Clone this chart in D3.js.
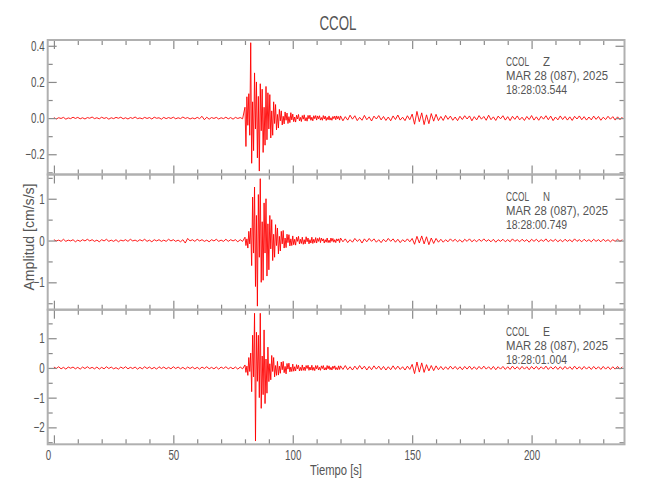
<!DOCTYPE html>
<html><head><meta charset="utf-8">
<script src="https://cdn.jsdelivr.net/npm/d3@7"></script>
<style>
html,body{margin:0;padding:0;background:#fff;}
text{font-family:'Liberation Sans',Arial,sans-serif;fill:#555;}
</style></head>
<body><svg id="c" width="650" height="500"></svg>
<script>
// ---- Data ----
const title = "CCOL";
const station = "CCOL";
const components = ["Z", "N", "E"];
const dateLabel = "MAR 28 (087), 2025";
const startTimes = ["18:28:03.544", "18:28:00.749", "18:28:01.004"];
const xLabel = "Tiempo [s]";
const yLabel = "Amplitud [cm/s/s]";
const xMajorTicks = [0, 50, 100, 150, 200];
const xMinorTicks = [10,20,30,40,60,70,80,90,110,120,130,140,160,170,180,190,210,220,230];
const yDomains = [[-0.312, 0.432], [-1.655, 1.58], [-2.57, 1.96]];
const yMajorTicks = [[-0.2, 0, 0.2, 0.4], [-1, 0, 1], [-2, -1, 0, 1]];
const yMinorTicks = [[-0.3, -0.1, 0.1, 0.3], [-1.5, -0.5, 0.5, 1.5], [-2.5, -1.5, -0.5, 0.5, 1.5]];
const yTickLabels = [["−0.2", "0.0", "0.2", "0.4"], ["−1", "0", "1"], ["−2", "−1", "0", "1"]];

// sample segments: pre = 0..79 s (1 s), main = 80..119.6 s (0.4 s), post = 120..238 s (1 s)
// Z in units of 0.001 cm/s/s, N and E in units of 0.01 cm/s/s
const zUnit = 0.001, nUnit = 0.01, eUnit = 0.01;
const zPre = [3,-5,2,-2,4,-6,1,-3,5,-2,4,-4,2,-5,3,-1,6,-3,2,-4,5,-2,3,-6,2,-3,4,-1,5,-4,2,-5,3,-2,6,-3,1,-4,4,-2,3,-5,5,-1,2,-6,4,-3,3,-2,5,-4,2,-3,6,-2,3,-5,1,-4,4,-3,10,-9,5,-6,3,-2,4,-5,2,-3,5,-4,3,-6,4,-2,3,-4];
const zMain = [60,-157,118,-40,135,-95,417,-250,90,-180,250,-60,200,-220,120,-293,190,-70,160,-190,60,-150,175,-120,140,-60,130,-110,40,-95,90,-30,75,-65,20,-55,48,-15,40,-38,10,-32,34,-12,28,-30,8,-25,30,-10,22,-20,6,-22,16,-5,20,-15,4,-19,14,-6,18,-15,3,-17,15,-4,16,-12,5,-15,13,-3,14,-11,12,-4,13,-11,3,-12,14,-5,11,-13,4,-9,12,-11,2,-12,9,-3,11,-9,12,-4,9,-11];
const zPost = [12,-15,8,-11,16,-6,13,-14,4,-12,15,-9,7,-16,11,-5,14,-10,9,-13,6,-15,12,-8,17,-11,5,-14,13,-9,22,-34,37,-20,29,-36,18,-31,25,-17,21,-14,9,-13,15,-7,11,-12,6,-14,10,-8,13,-5,12,-15,8,-10,14,-6,9,-12,16,-9,7,-13,11,-4,13,-11,8,-14,10,-7,12,-10,5,-13,9,-8,14,-11,7,-12,10,-6,13,-9,11,-14,6,-10,12,-8,9,-11,7,-13,10,-5,12,-9,8,-11,6,-10,11,-7,9,-12,5,-8,10,-6,8,-11,7,-9,6];
const nPre = [2,-1,1,-2,3,-2,1,-1,2,-3,1,-2,2,-1,3,-1,2,-2,1,-3,2,-1,3,-2,1,-2,2,-3,1,-1,2,-2,3,-1,1,-2,2,-1,3,-2,1,-3,2,-1,2,-2,1,-2,3,-1,2,-2,1,-3,2,-6,5,-1,2,-2,3,-1,2,-2,1,-3,2,-1,3,-2,1,-2,3,-2,2,-1,2,-3,2,-2];
const nMain = [8,-12,4,-18,22,-8,30,-60,104,-30,128,-110,60,-157,110,-40,148,-100,45,-95,90,-30,100,-85,40,-70,60,-20,50,-48,15,-40,38,-12,30,-32,10,-25,22,-8,24,-18,6,-17,15,-5,14,-13,4,-12,11,-10,3,-11,8,-2,10,-8,3,-7,8,-9,2,-8,9,-3,6,-8,2,-6,8,-7,3,-5,7,-6,5,-2,7,-5,6,-1,4,-6,2,-4,6,-5,1,-5,6,-2,5,-4,2,-5,4,-1,4,-5];
const nPost = [6,-3,4,-5,2,-4,5,-2,3,-6,4,-3,5,-2,4,-4,2,-5,3,-3,5,-2,4,-4,3,-5,2,-3,4,-3,5,-9,10,-6,11,-8,9,-10,6,-7,5,-4,3,-4,2,-3,4,-2,3,-3,2,-4,3,-2,4,-3,2,-3,3,-2,4,-2,2,-3,3,-4,2,-2,3,-3,2,-3,4,-2,2,-3,3,-2,2,-4,3,-2,3,-3,2,-2,4,-3,2,-2,3,-3,2,-3,3,-2,2,-3,4,-2,2,-3,3,-2,2,-3,3,-2,2,-3,3,-2,2,-3,2,-2,3,-2,2];
const ePre = [3,-2,4,-3,2,-4,3,-1,3,-3,2,-4,3,-2,4,-2,2,-3,3,-4,2,-3,4,-2,3,-3,1,-4,3,-2,4,-3,2,-2,3,-4,2,-3,4,-2,3,-3,2,-4,4,-2,3,-3,2,-3,4,-2,3,-3,2,-4,3,-2,3,-3,2,-4,3,-2,4,-3,2,-3,3,-4,3,-2,4,-3,2,-3,3,-4,3,-3];
const eMain = [10,-15,6,-25,35,-12,50,-80,110,-30,184,-246,120,-45,110,-100,184,-136,40,-90,128,-120,30,-85,70,-46,14,-40,42,-12,35,-30,8,-25,22,-24,6,-18,20,-6,22,-16,5,-20,15,-4,16,-13,3,-12,13,-11,4,-10,11,-3,9,-10,2,-9,10,-8,3,-9,8,-2,9,-8,3,-7,9,-8,2,-9,8,-3,8,-7,2,-8,7,-2,8,-7,1,-7,8,-3,7,-6,2,-7,6,-2,7,-6,1,-6,7,-5];
const ePost = [7,-5,8,-6,4,-7,6,-5,8,-4,6,-7,5,-6,7,-4,6,-6,5,-7,4,-6,7,-5,6,-5,4,-7,6,-5,12,-19,20,-14,17,-15,11,-10,8,-9,7,-6,5,-6,4,-5,6,-4,5,-5,4,-6,5,-4,6,-5,4,-5,5,-4,6,-4,4,-5,5,-6,4,-4,5,-5,4,-5,6,-4,4,-5,5,-4,4,-6,5,-4,5,-5,4,-4,6,-5,4,-4,5,-5,4,-5,5,-4,4,-5,6,-4,4,-5,5,-4,4,-5,5,-4,4,-5,5,-4,4,-5,4,-4,5,-4,4];

// ---- Build traces ----
function buildTrace(pre, main, post, unit) {
  const pts = [];
  pre.forEach((v, i) => pts.push([i * 1, v * unit]));
  main.forEach((v, i) => pts.push([80 + i * 0.4, v * unit]));
  post.forEach((v, i) => pts.push([120 + i * 1, v * unit]));
  return pts;
}
const traces = [
  buildTrace(zPre, zMain, zPost, zUnit),
  buildTrace(nPre, nMain, nPost, nUnit),
  buildTrace(ePre, eMain, ePost, eUnit)
];

// ---- Layout ----
const svg = d3.select("#c");
const left = 47.7, right = 624.5;
const bounds = [40, 174.5, 309.7, 444.3];
const axisColor = "#b0b0b0";
const tickColor = "#8a8a8a";
const squeeze = 0.7;

function narrow(sel, factor) {
  sel.each(function () {
    const w = this.getComputedTextLength();
    if (w > 0) d3.select(this).attr("textLength", w * factor).attr("lengthAdjust", "spacingAndGlyphs");
  });
}
function fixed(sel, len) {
  sel.attr("textLength", len).attr("lengthAdjust", "spacingAndGlyphs");
}

const x = d3.scaleLinear().domain([-2.6, 238.9]).range([left, right]);

fixed(svg.append("text").attr("x", 338).attr("y", 30).attr("text-anchor", "middle")
  .attr("font-size", 20).text(title), 37);

const defs = svg.append("defs");

components.forEach((comp, p) => {
  const top = bounds[p], bot = bounds[p + 1];
  const y = d3.scaleLinear().domain(yDomains[p]).range([bot, top]);
  const g = svg.append("g");

  defs.append("clipPath").attr("id", "clip" + p)
    .append("rect").attr("x", left).attr("y", top).attr("width", right - left).attr("height", bot - top);

  // waveform
  const line = d3.line().x(d => x(d[0])).y(d => y(d[1]));
  g.append("path").datum(traces[p]).attr("clip-path", "url(#clip" + p + ")")
    .attr("fill", "none").attr("stroke", "#ff0000").attr("stroke-width", 0.9)
    .attr("stroke-linejoin", "round").attr("d", line);

  function styleAxis(sel) {
    sel.select(".domain").remove();
    sel.selectAll(".tick line").attr("stroke", tickColor).attr("stroke-width", 1.2);
    sel.selectAll(".tick text").attr("font-size", 14).attr("fill", "#555")
      .attr("font-family", "'Liberation Sans',Arial,sans-serif");
    narrow(sel.selectAll(".tick text"), squeeze);
  }

  // left axis
  const labels = yTickLabels[p];
  const ax = g.append("g").attr("transform", `translate(${left},0)`)
    .call(d3.axisLeft(y).tickValues(yMajorTicks[p]).tickSize(-9).tickPadding(3)
      .tickFormat((d, i) => labels[i]));
  styleAxis(ax);
  const axm = g.append("g").attr("transform", `translate(${left},0)`)
    .call(d3.axisLeft(y).tickValues(yMinorTicks[p]).tickSize(-5).tickFormat(""));
  styleAxis(axm);
  // right axis
  const ar = g.append("g").attr("transform", `translate(${right},0)`)
    .call(d3.axisRight(y).tickValues(yMajorTicks[p]).tickSize(-9).tickFormat(""));
  styleAxis(ar);
  const arm = g.append("g").attr("transform", `translate(${right},0)`)
    .call(d3.axisRight(y).tickValues(yMinorTicks[p]).tickSize(-5).tickFormat(""));
  styleAxis(arm);
  // top x ticks
  const at = g.append("g").attr("transform", `translate(0,${top})`)
    .call(d3.axisTop(x).tickValues(xMajorTicks).tickSize(-9).tickFormat(""));
  styleAxis(at);
  const atm = g.append("g").attr("transform", `translate(0,${top})`)
    .call(d3.axisTop(x).tickValues(xMinorTicks).tickSize(-5).tickFormat(""));
  styleAxis(atm);
  // bottom x ticks
  const last = p === components.length - 1;
  const ab = g.append("g").attr("transform", `translate(0,${bot})`)
    .call(d3.axisBottom(x).tickValues(xMajorTicks).tickSize(-9).tickPadding(6)
      .tickFormat(last ? d3.format("d") : ""));
  styleAxis(ab);
  if (last) ab.selectAll(".tick text").filter(d => d === 0).attr("dx", -6);
  const abm = g.append("g").attr("transform", `translate(0,${bot})`)
    .call(d3.axisBottom(x).tickValues(xMinorTicks).tickSize(-5).tickFormat(""));
  styleAxis(abm);

  // frame
  g.append("rect").attr("x", left).attr("y", top).attr("width", right - left).attr("height", bot - top)
    .attr("fill", "none").attr("stroke", axisColor).attr("stroke-width", 2);

  // annotation
  const ann = g.append("g");
  fixed(ann.append("text").attr("x", 506).attr("y", top + 26).attr("font-size", 13).text(station), 23);
  fixed(ann.append("text").attr("x", 543).attr("y", top + 26).attr("font-size", 13).text(comp), 7);
  fixed(ann.append("text").attr("x", 506).attr("y", top + 40).attr("font-size", 13).text(dateLabel), 102);
  fixed(ann.append("text").attr("x", 506).attr("y", top + 54).attr("font-size", 13).text(startTimes[p]), 61);
});

fixed(svg.append("text").attr("x", 336).attr("y", 475).attr("text-anchor", "middle")
  .attr("font-size", 14).text(xLabel), 52);
fixed(svg.append("text").attr("transform", "translate(34,237) rotate(-90)").attr("text-anchor", "middle")
  .attr("font-size", 14).text(yLabel), 107);
</script>
</body></html>
